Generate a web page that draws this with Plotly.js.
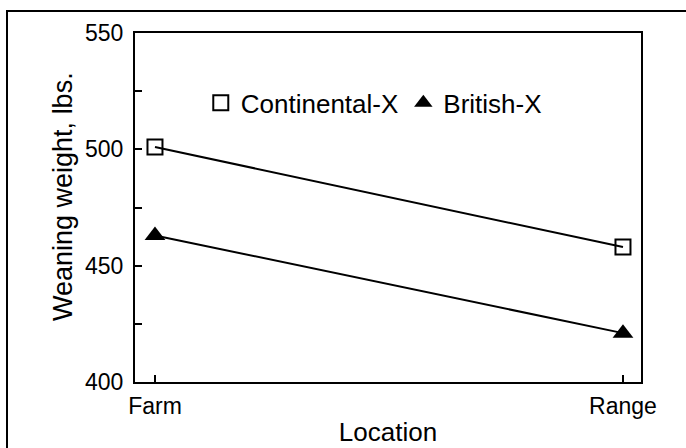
<!DOCTYPE html>
<html>
<head>
<meta charset="utf-8">
<script src="https://cdn.plot.ly/plotly-3.0.1.min.js"></script>
<style>html,body{margin:0;padding:0;background:#fff;}#chart{width:686px;height:448px;}</style>
</head>
<body>
<div id="chart"></div>
<script>
var locations = ["Farm", "Range"];
var continentalX = [501, 458];
var britishX = [463, 421];
var seriesNames = ["Continental-X", "British-X"];
var xTitle = "Location";
var yTitle = "Weaning weight, lbs.";

var FONT = "Liberation Sans, Arial, sans-serif";

var traces = [
  {x: locations, y: continentalX, type: "scatter", mode: "lines+markers", showlegend: false,
   line: {color: "#000", width: 2},
   marker: {symbol: "square-open", size: 15, color: "#000", line: {color: "#000", width: 2}}},
  {x: locations, y: britishX, type: "scatter", mode: "lines+markers", showlegend: false,
   line: {color: "#000", width: 2},
   marker: {symbol: "triangle-up", size: 18, color: "#000"}},
  {x: [null], y: [null], type: "scatter", mode: "markers", name: seriesNames[0],
   marker: {symbol: "square-open", size: 15, color: "#000", line: {color: "#000", width: 2}}},
  {x: [null], y: [null], type: "scatter", mode: "markers", name: seriesNames[1],
   marker: {symbol: "triangle-up", size: 18, color: "#000"}}
];

var layout = {
  width: 686, height: 448,
  margin: {l: 135, r: 45, t: 33, b: 66, pad: 0},
  paper_bgcolor: "#fff", plot_bgcolor: "#fff",
  font: {family: FONT, size: 23, color: "#000"},
  showlegend: true,
  legend: {orientation: "h", x: 0.130, y: 0.800, xanchor: "left", yanchor: "middle",
           bgcolor: "rgba(0,0,0,0)", font: {family: FONT, size: 26, color: "#000"},
           itemwidth: 30, tracegroupgap: 0},
  xaxis: {type: "category", range: [-0.0427, 1.0385], showgrid: false, zeroline: false,
          showline: true, linecolor: "#000", linewidth: 2, mirror: true,
          ticks: "inside", ticklen: 7, tickwidth: 2, tickcolor: "#000", ticklabelstandoff: 2,
          tickfont: {family: FONT, size: 23, color: "#000"},
          title: {text: xTitle, font: {family: FONT, size: 26, color: "#000"}, standoff: 5}},
  yaxis: {range: [400, 550], dtick: 50, showgrid: false, zeroline: false,
          showline: true, linecolor: "#000", linewidth: 2, mirror: true,
          ticks: "inside", ticklen: 7, tickwidth: 2, tickcolor: "#000", ticklabelstandoff: 5,
          minor: {dtick: 25, ticks: "inside", ticklen: 7, tickwidth: 2, tickcolor: "#000", showgrid: false},
          tickfont: {family: FONT, size: 23, color: "#000"}},
  annotations: [
    {text: yTitle, xref: "paper", yref: "paper", x: (63 - 135) / 506, y: (382 - 197) / 349,
     xanchor: "center", yanchor: "middle", textangle: -90, showarrow: false,
     font: {family: FONT, size: 27, color: "#000"}}
  ],
  shapes: [
    {type: "rect", xref: "paper", yref: "paper",
     x0: (7 - 135) / 506, x1: (720 - 135) / 506, y0: (382 - 480) / 349, y1: (382 - 11) / 349,
     line: {color: "#000", width: 2}, fillcolor: "rgba(0,0,0,0)", layer: "above"}
  ]
};

Plotly.newPlot("chart", traces, layout, {displayModeBar: false, staticPlot: true});
</script>
</body>
</html>
